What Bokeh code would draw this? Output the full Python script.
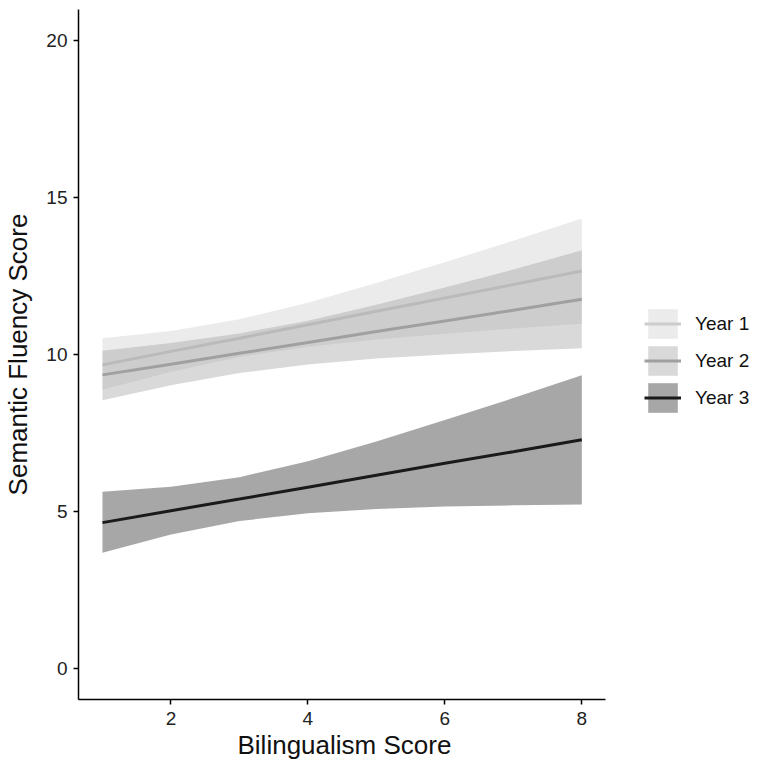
from bokeh.plotting import figure
from bokeh.models import Range1d, FixedTicker, Legend, LegendItem, Title
from bokeh.embed import file_html
from bokeh.resources import INLINE

# Bilingualism score (x) at which the fitted lines / confidence bands were read
bilingualism = [1, 2, 3, 4, 5, 6, 7, 8]

# Year 1
year1_fit = [9.67, 10.10, 10.52, 10.95, 11.38, 11.80, 12.23, 12.66]
year1_upper = [10.52, 10.75, 11.12, 11.65, 12.28, 12.94, 13.63, 14.34]
year1_lower = [8.88, 9.45, 9.92, 10.25, 10.48, 10.66, 10.83, 10.98]

# Year 2
year2_fit = [9.35, 9.69, 10.04, 10.38, 10.73, 11.07, 11.41, 11.76]
year2_upper = [10.12, 10.37, 10.67, 11.08, 11.59, 12.14, 12.71, 13.32]
year2_lower = [8.54, 9.02, 9.41, 9.68, 9.87, 10.00, 10.11, 10.20]

# Year 3
year3_fit = [4.64, 5.02, 5.39, 5.77, 6.15, 6.53, 6.90, 7.28]
year3_upper = [5.62, 5.78, 6.09, 6.60, 7.23, 7.91, 8.61, 9.34]
year3_lower = [3.68, 4.26, 4.69, 4.94, 5.07, 5.15, 5.19, 5.22]

labels = ["Year 1", "Year 2", "Year 3"]
x_ticks = [2, 4, 6, 8]
y_ticks = [0, 5, 10, 15, 20]
x_title = "Bilingualism Score"
y_title = "Semantic Fluency Score"

FONT = "Liberation Sans"

# Frame geometry: the axis spans 0.65..8.35 over 532 px; the frame is widened
# to the right so the legend can sit inside it.
FIG_W, LEFT = 750, 72
AX_LO, AX_HI, AX_PX = 0.65, 8.35, 532
frame_w = FIG_W - LEFT
x_end = AX_LO + (AX_HI - AX_LO) * frame_w / AX_PX

p = figure(width=FIG_W, height=762,
           x_range=Range1d(AX_LO, x_end), y_range=Range1d(-1, 21),
           output_backend="svg", toolbar_location=None,
           min_border_left=LEFT, min_border_right=0,
           min_border_top=9, min_border_bottom=63)

series = [
    (year1_fit, year1_upper, year1_lower, "#cccccc", "#cccccc"),
    (year2_fit, year2_upper, year2_lower, "#a0a0a0", "#a0a0a0"),
    (year3_fit, year3_upper, year3_lower, "#222222", "#1a1a1a"),
]

items = []
for lab, (fit, up, lo, fill, line) in zip(labels, series):
    band = p.varea(x=bilingualism, y1=lo, y2=up, fill_color=fill, fill_alpha=0.4)
    ln = p.line(x=bilingualism, y=fit, line_color=line, line_width=3)
    items.append(LegendItem(label=lab, renderers=[band, ln]))

legend = Legend(items=items, location=(566, 283), padding=0, margin=0, spacing=0,
                glyph_width=37, glyph_height=37, label_standoff=14,
                label_text_font=FONT, label_text_font_size="19px",
                label_text_color="#111111",
                border_line_color=None, background_fill_alpha=0)
p.add_layout(legend)

p.grid.visible = False
p.outline_line_color = None

p.xaxis.ticker = FixedTicker(ticks=x_ticks)
p.yaxis.ticker = FixedTicker(ticks=y_ticks)
p.xaxis.bounds = (AX_LO, AX_HI)
p.yaxis.axis_label = y_title

for ax in [p.xaxis[0], p.yaxis[0]]:
    ax.axis_line_color = "black"
    ax.axis_line_width = 1.5
    ax.major_tick_line_color = "black"
    ax.major_tick_line_width = 1.5
    ax.major_tick_out = 5
    ax.major_tick_in = 0
    ax.minor_tick_line_color = None
    ax.major_label_text_font = FONT
    ax.major_label_text_font_size = "19px"
    ax.major_label_text_color = "#222222"
    ax.axis_label_text_font = FONT
    ax.axis_label_text_font_size = "26px"
    ax.axis_label_text_font_style = "normal"
    ax.axis_label_text_color = "#111111"

p.xaxis[0].major_label_standoff = 7
p.yaxis[0].major_label_standoff = 6
p.yaxis[0].axis_label_standoff = 10

# x-axis title centred under the axis part of the frame (not the legend area)
xt = Title(text=x_title, align="left", offset=159, standoff=0,
           text_font=FONT, text_font_size="26px", text_font_style="normal",
           text_color="#111111")
p.add_layout(xt, "below")

open("out.html", "w").write(file_html(p, INLINE))
